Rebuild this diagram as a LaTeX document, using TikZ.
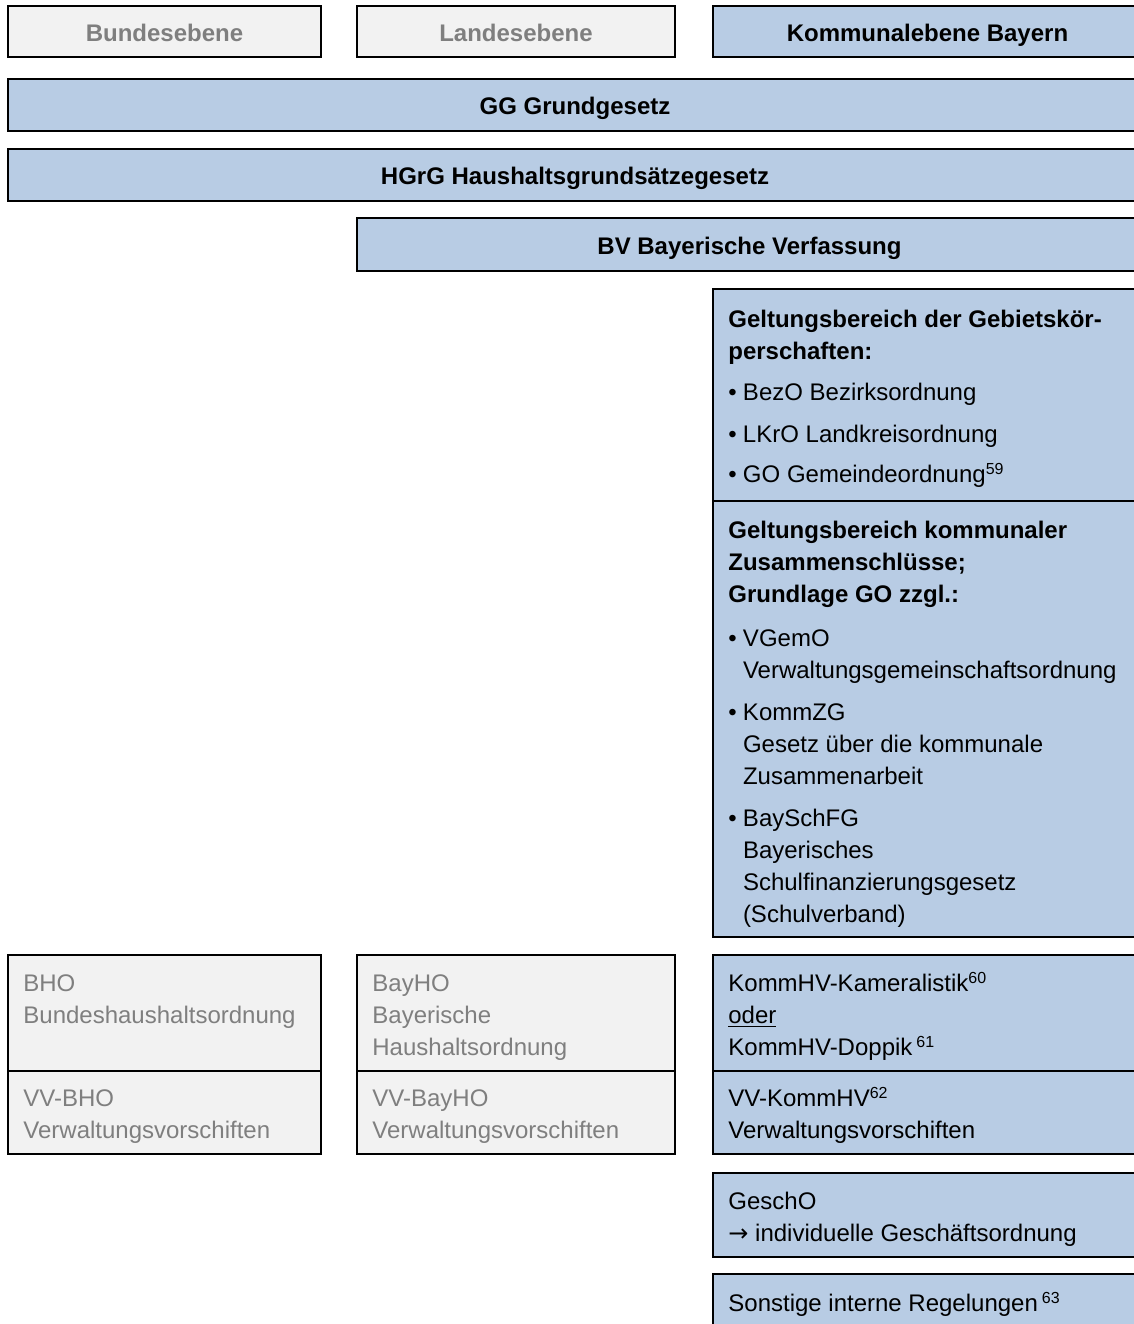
\documentclass[tikz,border=0pt]{standalone}
\usepackage{fontspec}
\setmainfont{Liberation Sans}
\newfontfamily\pfeilfont{DejaVu Sans}
\usetikzlibrary{fit}
\definecolor{ebeneblau}{HTML}{B8CCE4}
\definecolor{ebenegrau}{HTML}{F2F2F2}
\definecolor{textgrau}{HTML}{7F7F7F}
\newcommand{\pkt}{\makebox[7.3pt][l]{\textbullet}}
\newcommand{\einr}{\hspace*{7.3pt}}
\newcommand{\hoch}[1]{\raisebox{0.33em}{\fontsize{8pt}{8pt}\selectfont #1}}
\newcommand{\grundschrift}{\fontsize{12pt}{16pt}\selectfont}
\tikzset{
  kasten/.style={draw=black,line width=1pt,inner sep=0pt},
  blau/.style={kasten,fill=ebeneblau},
  grau/.style={kasten,fill=ebenegrau},
  kopf/.style={font=\grundschrift\bfseries,inner sep=0pt,anchor=base},
  zeilen/.style={align=left,inner sep=0pt,anchor=base west}
}

\begin{document}
\begin{tikzpicture}[x=0.5pt,y=-0.5pt,font=\grundschrift]
    \useasboundingbox (0,0) rectangle (1134,1324);
    \clip (0,0) rectangle (1134,1324);
    % Ebenen
    \node[grau,fit={(8,6) (321,57)}] (bund) {};
    \node[grau,fit={(357,6) (675,57)}] (land) {};
    \node[blau,fit={(713,6) (1142,57)}] (komm) {};
    \node[kopf,text=textgrau] (bund-txt) at (164.5,41) {Bundesebene};
    \node[kopf,text=textgrau] (land-txt) at (516,41) {Landesebene};
    \node[kopf] (komm-txt) at (927.5,41) {Kommunalebene Bayern};
    % Verfassung und Grundsaetze
    \node[blau,fit={(8,79) (1142,131)}] (gg) {};
    \node[blau,fit={(8,149) (1142,201)}] (hgrg) {};
    \node[blau,fit={(357,218) (1142,271)}] (bv) {};
    \node[kopf] (gg-txt) at (575,114) {GG Grundgesetz};
    \node[kopf] (hgrg-txt) at (575,184) {HGrG Haushaltsgrundsätzegesetz};
    \node[kopf] (bv-txt) at (749.5,254) {BV Bayerische Verfassung};
    % Kommunalgesetze
    \node[blau,fit={(713,289) (1142,501)}] (gebiet) {};
    \node[blau,fit={(713,501) (1142,937)}] (zusammen) {};
    \node[zeilen] (gebiet-txt) at (728,482) {\textbf{Geltungsbereich der Gebietskör-}\\\textbf{perschaften:}\\[4.5pt]\pkt BezO Bezirksordnung\\[5pt]\pkt LKrO Landkreisordnung\\[4pt]\pkt GO Gemeindeordnung\hoch{59}};
    \node[zeilen] (zusammen-txt) at (728,922) {\textbf{Geltungsbereich kommunaler}\\\textbf{Zusammenschlüsse;}\\\textbf{Grundlage GO zzgl.:}\\[6pt]\pkt VGemO\\\einr Verwaltungsgemeinschaftsordnung\\[5pt]\pkt KommZG\\\einr Gesetz über die kommunale\\\einr Zusammenarbeit\\[5pt]\pkt BaySchFG\\\einr Bayerisches\\\einr Schulfinanzierungsgesetz\\\einr (Schulverband)};
    % Haushaltsordnungen
    \node[grau,fit={(8,955) (321,1071)}] (bho) {};
    \node[grau,fit={(8,1071) (321,1154)}] (vvbho) {};
    \node[grau,fit={(357,955) (675,1071)}] (bayho) {};
    \node[grau,fit={(357,1071) (675,1154)}] (vvbayho) {};
    \node[blau,fit={(713,955) (1142,1071)}] (kommhv) {};
    \node[blau,fit={(713,1071) (1142,1154)}] (vvkommhv) {};
    \node[zeilen,text=textgrau] (bho-txt) at (23,1023) {BHO\\Bundeshaushaltsordnung};
    \node[zeilen,text=textgrau] (vvbho-txt) at (23,1138) {VV-BHO\\Verwaltungsvorschiften};
    \node[zeilen,text=textgrau] (bayho-txt) at (372,1055) {BayHO\\Bayerische\\Haushaltsordnung};
    \node[zeilen,text=textgrau] (vvbayho-txt) at (372,1138) {VV-BayHO\\Verwaltungsvorschiften};
    \node[zeilen] (kommhv-txt) at (728,1055) {KommHV-Kameralistik\hoch{60}\\\underline{oder}\\KommHV-Doppik\,\hoch{61}};
    \node[zeilen] (vvkommhv-txt) at (728,1138) {VV-KommHV\hoch{62}\\Verwaltungsvorschiften};
    % interne Regelungen
    \node[blau,fit={(713,1173) (1142,1257)}] (gescho) {};
    \node[blau,fit={(713,1274) (1142,1340)}] (sonst) {};
    \node[zeilen] (gescho-txt) at (728,1241) {GeschO\\{\pfeilfont →} individuelle Geschäftsordnung};
    \node[zeilen] (sonst-txt) at (728,1311) {Sonstige interne Regelungen\,\hoch{63}};
\end{tikzpicture}
\end{document}
